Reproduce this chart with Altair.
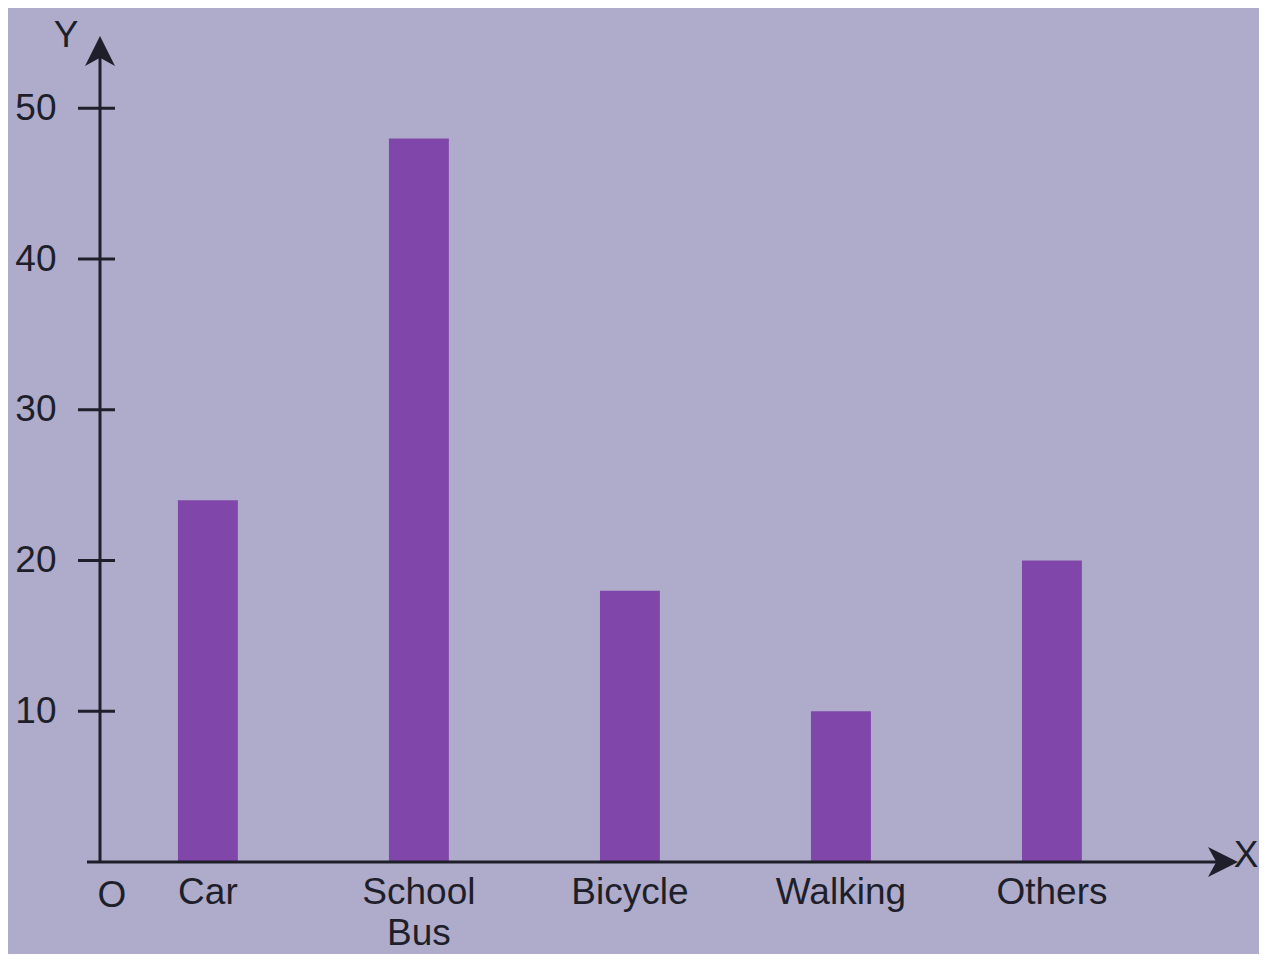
import altair as alt
import pandas as pd

categories = ["Car", "School Bus", "Bicycle", "Walking", "Others"]
values = [24, 48, 18, 10, 20]
y_ticks = [10, 20, 30, 40, 50]

FONT = "Liberation Sans, Arial, sans-serif"
BG = "#aeacca"
BAR = "#8146a9"
INK = "#1f1f2b"
FS = 37

W, H = 1138, 826
ymax = 54.8

df = pd.DataFrame({"mode": categories, "students": values})
ticks_df = pd.DataFrame({"v": y_ticks})
one = pd.DataFrame({"a": [0]})

xscale = alt.Scale(domain=categories, paddingInner=0.716, paddingOuter=0.5546, align=0.333)
yscale = alt.Scale(domain=[0, ymax], nice=False, zero=True)

y_axis = alt.Axis(title=None, domain=False, ticks=False, grid=False,
                  values=y_ticks, labelFont=FONT, labelFontSize=FS,
                  labelColor=INK, labelPadding=44)

bars = alt.Chart(df).mark_bar(color=BAR).encode(
    x=alt.X("mode:N", scale=xscale, sort=categories,
            axis=alt.Axis(title=None, domain=False, ticks=False, labelAngle=0,
                          labelFont=FONT, labelFontSize=FS, labelColor=INK,
                          labelPadding=12, labelExpr="split(datum.label, ' ')",
                          labelLineHeight=41)),
    y=alt.Y("students:Q", scale=yscale, axis=y_axis),
)

tick_rules = alt.Chart(ticks_df).mark_rule(color=INK, strokeWidth=3).encode(
    y=alt.Y("v:Q", scale=yscale, axis=y_axis),
    x=alt.value(-22),
    x2=alt.value(15),
)

y_line = alt.Chart(one).mark_rule(color=INK, strokeWidth=3).encode(
    x=alt.value(0), y=alt.value(H), y2=alt.value(8)
)
x_line = alt.Chart(one).mark_rule(color=INK, strokeWidth=3).encode(
    x=alt.value(-13), x2=alt.value(W - 8), y=alt.value(H)
)

y_arrow = alt.Chart(one).mark_point(
    shape="M0,-1 L1,1 L0,0.45 L-1,1 Z", filled=True, color=INK, opacity=1, size=900
).encode(x=alt.value(0), y=alt.value(15))

x_arrow = alt.Chart(one).mark_point(
    shape="M1,0 L-1,-1 L-0.45,0 L-1,1 Z", filled=True, color=INK, opacity=1, size=900
).encode(x=alt.value(W - 15), y=alt.value(H))

txt = dict(font=FONT, fontSize=FS, color=INK, align="center", baseline="middle")
o_text = alt.Chart(one).mark_text(**txt).encode(
    x=alt.value(12), y=alt.value(H + 34), text=alt.value("O"))
y_text = alt.Chart(one).mark_text(**txt).encode(
    x=alt.value(-34), y=alt.value(0), text=alt.value("Y"))
x_text = alt.Chart(one).mark_text(**txt).encode(
    x=alt.value(W + 8), y=alt.value(H - 6), text=alt.value("X"))

chart = alt.layer(
    bars, tick_rules, y_line, x_line, y_arrow, x_arrow, o_text, y_text, x_text
).properties(
    width=W, height=H, background=BG,
    autosize=alt.AutoSizeParams(type="none"),
    padding={"left": 92, "top": 28, "right": 21, "bottom": 92},
).configure_view(stroke=None)

chart.save("out.html", embed_options={"renderer": "svg", "actions": False})
